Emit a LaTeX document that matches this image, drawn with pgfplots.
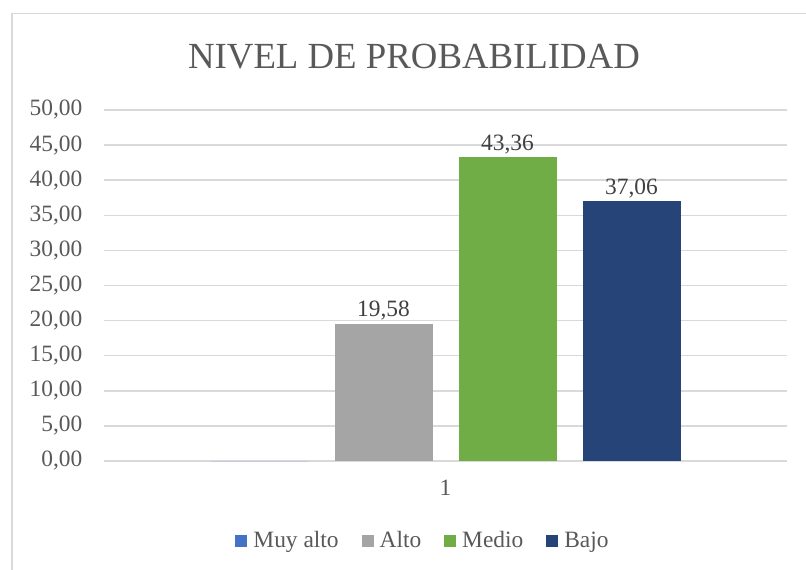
\documentclass[border=0pt]{standalone}
\usepackage{fontspec}
\setmainfont{Liberation Serif}
\usepackage{pgfplots}
\pgfplotsset{compat=1.18}
\definecolor{cMuy}{HTML}{4472C4}
\definecolor{cAlto}{HTML}{A5A5A5}
\definecolor{cMedio}{HTML}{70AD47}
\definecolor{cBajo}{HTML}{264478}
\definecolor{cTxt}{HTML}{595959}
\definecolor{cLab}{HTML}{404040}
\definecolor{cGrid}{HTML}{D9D9D9}
\begin{document}
\begin{tikzpicture}
\useasboundingbox (0,0) rectangle (403bp,285bp);
\draw[cGrid, line width=0.8bp] (6bp,0) -- (6bp,278.25bp) -- (403bp,278.25bp);
\node[anchor=base, text=cTxt, inner sep=0pt, font=\fontsize{18.4bp}{22bp}\selectfont] at (207bp,250.85bp) {NIVEL DE PROBABILIDAD};
\begin{axis}[
  at={(52bp,54.5bp)}, anchor=south west,
  scale only axis, width=341.5bp, height=175.5bp,
  ybar=13bp, bar width=49bp,
  xmin=0.5, xmax=1.5, ymin=0, ymax=50,
  enlargelimits=false, clip=false,
  xtick={1}, xticklabels={1},
  ytick={0,5,...,50},
  major tick length=0pt,
  axis line style={draw=none},
  ymajorgrids, grid style={cGrid, line width=0.75bp},
  /pgf/number format/assume math mode=true,
  tick label style={text=cTxt, font=\fontsize{11.7bp}{14bp}\selectfont},
  yticklabel style={anchor=east, inner sep=0pt, xshift=-10.65bp,
    /pgf/number format/.cd, fixed, fixed zerofill, precision=2, use comma, 1000 sep={}},
  xticklabel style={anchor=north, inner sep=0pt, yshift=-9.5bp},
  legend columns=-1,
  legend image code/.code={\fill[#1] (0bp,-3bp) rectangle (6bp,3bp);},
  legend style={draw=none, at={(0.4656,-0.228)}, anchor=center,
    font=\fontsize{11.7bp}{14bp}\selectfont, text=cTxt,
    nodes={inner sep=0pt}, column sep=3bp,
    /tikz/every even column/.append style={column sep=11.5bp}},
  nodes near coords style={anchor=base, inner sep=0pt, yshift=3.3bp, text=cLab,
    font=\fontsize{11.7bp}{14bp}\selectfont},
]
\addplot[fill=cMuy, draw=none] coordinates {(1,0)};
\addplot[fill=cAlto, draw=none, nodes near coords={\pgfmathprintnumber[fixed,fixed zerofill,precision=2,use comma,assume math mode=true]{\pgfplotspointmeta}}] coordinates {(1,19.58)};
\addplot[fill=cMedio, draw=none, nodes near coords={\pgfmathprintnumber[fixed,fixed zerofill,precision=2,use comma,assume math mode=true]{\pgfplotspointmeta}}] coordinates {(1,43.36)};
\addplot[fill=cBajo, draw=none, nodes near coords={\pgfmathprintnumber[fixed,fixed zerofill,precision=2,use comma,assume math mode=true]{\pgfplotspointmeta}}] coordinates {(1,37.06)};
\legend{Muy alto, Alto, Medio, Bajo}
\end{axis}
\end{tikzpicture}
\end{document}
